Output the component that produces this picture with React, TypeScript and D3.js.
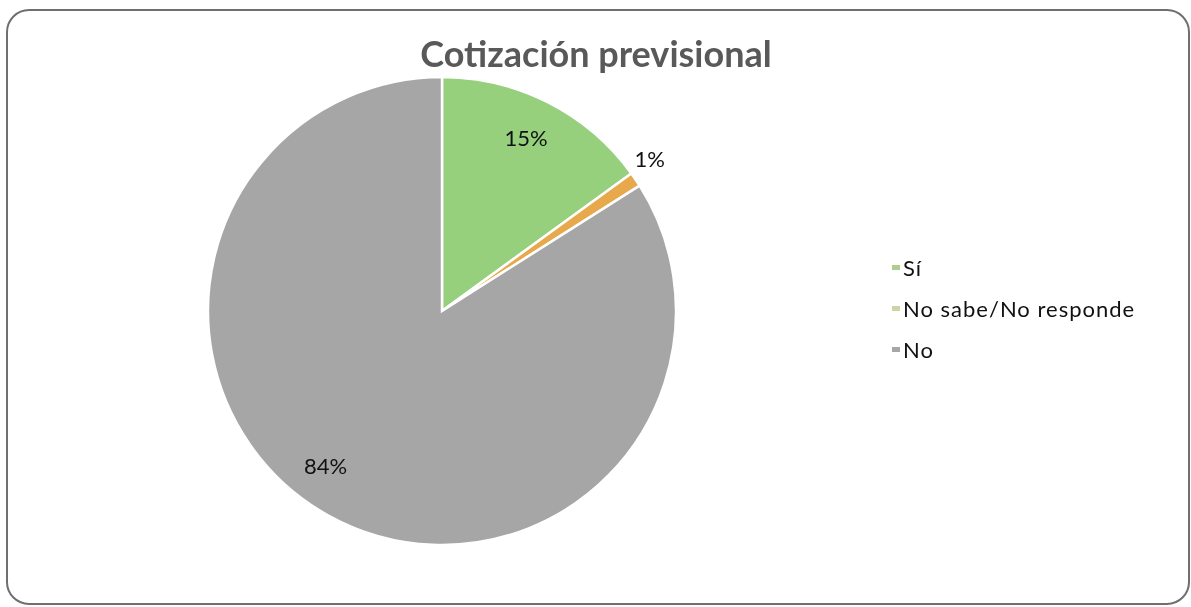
import { useEffect, useRef } from "react";
import * as d3 from "d3";

const categories = ["Sí", "No sabe/No responde", "No"];
const values = [15, 1, 84];
const colors = ["#96d07c", "#e8a84c", "#a6a6a6"];
const legendColors = ["#a9d08e", "#c9d6a6", "#a6a6a6"];
const pctLabels = ["15%", "1%", "84%"];

const W = 1191;
const H = 607;

export default function App() {
  const ref = useRef<SVGSVGElement>(null);

  useEffect(() => {
    if (!ref.current) return;
    const svg = d3.select(ref.current);
    svg.selectAll("*").remove();
    svg.attr("width", W).attr("height", H);

    const font = "Lato, 'Open Sans', sans-serif";

    // frame
    svg
      .append("rect")
      .attr("x", 7)
      .attr("y", 10)
      .attr("width", 1182)
      .attr("height", 594)
      .attr("rx", 22)
      .attr("fill", "#ffffff")
      .attr("stroke", "#6f6f6f")
      .attr("stroke-width", 2);

    svg
      .append("text")
      .attr("x", 596)
      .attr("y", 67)
      .attr("text-anchor", "middle")
      .attr("font-family", font)
      .attr("font-weight", "bold")
      .attr("font-size", 36)
      .attr("fill", "#595959")
      .text("Cotización previsional");

    const cx = 442;
    const cy = 311;
    const r = 234;

    const data = categories.map((c, i) => ({ c, v: values[i], i }));
    const pie = d3
      .pie<{ c: string; v: number; i: number }>()
      .value((d) => d.v)
      .sort(null);
    const arcs = pie(data);
    const arc = d3
      .arc<d3.PieArcDatum<{ c: string; v: number; i: number }>>()
      .innerRadius(0)
      .outerRadius(r);

    const g = svg.append("g").attr("transform", `translate(${cx},${cy})`);
    g.selectAll("path")
      .data(arcs)
      .join("path")
      .attr("d", arc)
      .attr("fill", (d) => colors[d.data.i])
      .attr("stroke", "#ffffff")
      .attr("stroke-width", 2.5);

    // label radius (fraction of r) and angle nudge (degrees), Excel best-fit style
    const labelRad = [0.82, 1.1, 0.83];
    const labelNudge = [-1, -2, 8];
    g.selectAll("text.lbl")
      .data(arcs)
      .join("text")
      .attr("class", "lbl")
      .attr("transform", (d) => {
        const a =
          (d.startAngle + d.endAngle) / 2 +
          (labelNudge[d.data.i] * Math.PI) / 180;
        const rr = labelRad[d.data.i] * r;
        return `translate(${Math.sin(a) * rr},${-Math.cos(a) * rr})`;
      })
      .attr("text-anchor", "middle")
      .attr("dy", "0.35em")
      .attr("font-family", font)
      .attr("font-size", 22)
      .attr("fill", "#111111")
      .text((d) => pctLabels[d.data.i]);

    const legend = svg.append("g").attr("transform", "translate(892,268)");
    const row = legend
      .selectAll("g")
      .data(categories)
      .join("g")
      .attr("transform", (_, i) => `translate(0,${i * 41})`);
    row
      .append("rect")
      .attr("x", 0)
      .attr("y", -3)
      .attr("width", 8)
      .attr("height", 5)
      .attr("fill", (_, i) => legendColors[i]);
    row
      .append("text")
      .attr("x", 11)
      .attr("dy", "0.35em")
      .attr("font-family", font)
      .attr("font-size", 22)
      .attr("letter-spacing", 1)
      .attr("fill", "#111111")
      .text((d) => d);
  }, []);

  return (
    <svg
      ref={ref}
      style={{ position: "fixed", left: 0, top: 0, display: "block" }}
    />
  );
}
